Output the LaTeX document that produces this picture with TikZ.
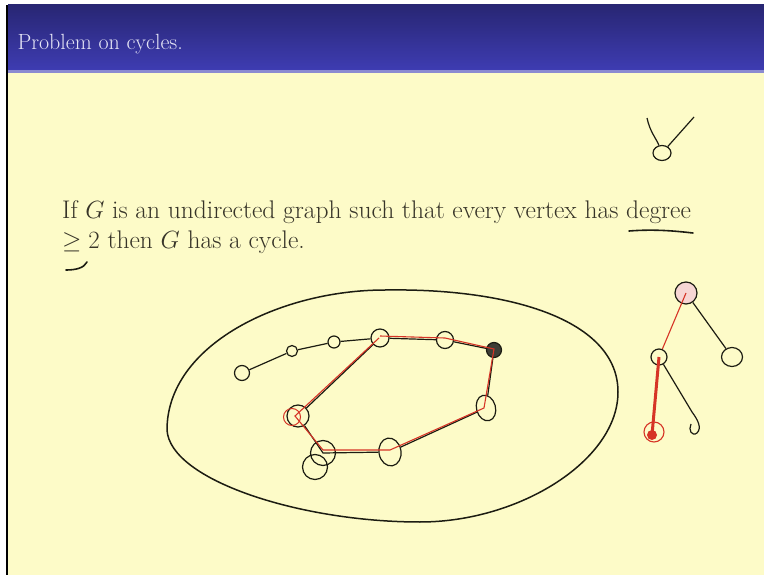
\documentclass[tikz,border=0pt]{standalone}
\usepackage{amsmath,amssymb}
\usepackage{tikz}
\usetikzlibrary{positioning,shapes.geometric,calc}
\usepackage{xcolor}

\definecolor{slidebg}{RGB}{253,251,200}
\definecolor{bartop}{RGB}{40,38,115}
\definecolor{barbot}{RGB}{62,60,178}
\definecolor{titletext}{RGB}{228,228,245}
\definecolor{bodytext}{RGB}{55,52,40}
\definecolor{pen}{RGB}{28,28,18}
\definecolor{redpen}{RGB}{214,52,38}

\begin{document}
\begin{tikzpicture}[
  x=1pt, y=-1pt,
  vert/.style={circle, draw=pen, line width=1.2pt, inner sep=0pt, minimum size=#1},
  vert/.default=14pt,
  overt/.style={ellipse, draw=pen, line width=1.2pt, inner sep=0pt},
  edge/.style={draw=pen, line width=1.2pt},
  rededge/.style={draw=redpen, line width=1.1pt},
  stroke/.style={draw=pen, line width=1.6pt, line cap=round}
]

% Slide background and title bar
\useasboundingbox (0,0) rectangle (764,575);
\fill[white] (0,0) rectangle (764,575);
\fill[slidebg] (8,72) rectangle (764,575);
\fill[black] (6,5) rectangle (8,575);
\shade[top color=bartop, bottom color=barbot] (8,5) rectangle (764,70);
\fill[barbot!60!white] (8,70) rectangle (764,73);

\node[anchor=base west, text=titletext, font=\fontsize{22}{26}\selectfont] (title) at (14,50) {Problem on cycles.};

% Statement
\node[anchor=base west, inner sep=0pt, text=bodytext, font=\fontsize{25.5}{29}\selectfont] (line1) at (62,219)
  {If $G$ is an undirected graph such that every vertex has degree};
\node[anchor=base west, inner sep=0pt, text=bodytext, font=\fontsize{25.5}{29}\selectfont] (line2) at (62,248)
  {$\geq 2$ then $G$ has a cycle.};

% Hand underlines
\draw[stroke] (629,231) .. controls (655,229) and (675,231) .. (693,233);
\draw[stroke] (66,270) .. controls (76,270) and (84,268) .. (87,262);

% Small sketch at top right
\node[overt, minimum width=18pt, minimum height=15pt] (v) at (662,153) {};
\coordinate (vl) at (647,118);
\coordinate (vr) at (694,117);
\draw[edge] (vl) .. controls (650,132) and (656,138) .. (v);
\draw[edge] (vr) -- (v);

% The graph G
\draw[pen, line width=1.5pt] (385,290) .. controls (510,288) and (618,320) .. (618,392)
  .. controls (618,460) and (520,522) .. (420,522)
  .. controls (300,522) and (170,480) .. (167,430)
  .. controls (167,345) and (280,290) .. cycle;

\node[vert=15pt] (a) at (242,373) {};
\node[vert=11pt] (b) at (292,351) {};
\node[vert=12pt] (c) at (334,342) {};
\node[vert=18pt] (d) at (380,338) {};
\node[vert=17pt] (e) at (445,340) {};
\node[vert=15pt, fill=pen!85] (f) at (494,350) {};
\node[overt, minimum width=19pt, minimum height=26pt, rotate=15] (g) at (486,408) {};
\node[overt, minimum width=22pt, minimum height=28pt, rotate=10] (h) at (390,452) {};
\node[vert=25pt] (i) at (323,453) {};
\node[vert=25pt] (i2) at (315,467) {};
\node[vert=22pt] (j) at (298,416) {};
\node[circle, draw=redpen, line width=1pt, minimum size=17pt, inner sep=0pt] (jr) at (292,417) {};

% path into the cycle
\draw[edge] (a) -- (b) -- (c) -- (d);
% cycle
\draw[edge] (d) -- (e) -- (f) -- (g) -- (h) -- (i.center) -- (j) -- (d);
\draw[rededge] ([yshift=2pt]d.center) -- ([yshift=2pt]e.center) -- ([yshift=1pt]f.center)
  -- ([xshift=-2pt]g.center) -- ([yshift=2pt]h.center) -- ([yshift=3pt]i.center)
  -- ([xshift=-3pt]j.center) -- ([xshift=-1pt]d.center);

% Tree at right
\node[vert=22pt, fill=redpen!20] (r) at (686,293) {};
\node[overt, minimum width=21pt, minimum height=19pt] (s) at (732,357) {};
\node[vert=16pt] (m) at (659,357) {};
\node[circle, draw=redpen, line width=1.1pt, minimum size=20pt, inner sep=0pt] (l) at (654,432) {};
\coordinate (k) at (692,412);

\draw[edge] (r) -- (s);
\draw[rededge] (r.center) -- (m);
\draw[redpen, line width=3pt] (m.center) -- ([shift={(-2,3)}]l.center);
\fill[redpen] ([shift={(-2,3)}]l.center) circle (5pt);
\draw[edge] (m) -- (k);
\draw[edge] (k) .. controls (698,420) and (702,428) .. (697,433)
  .. controls (692,437) and (688,430) .. (691,424);

\end{tikzpicture}
\end{document}
